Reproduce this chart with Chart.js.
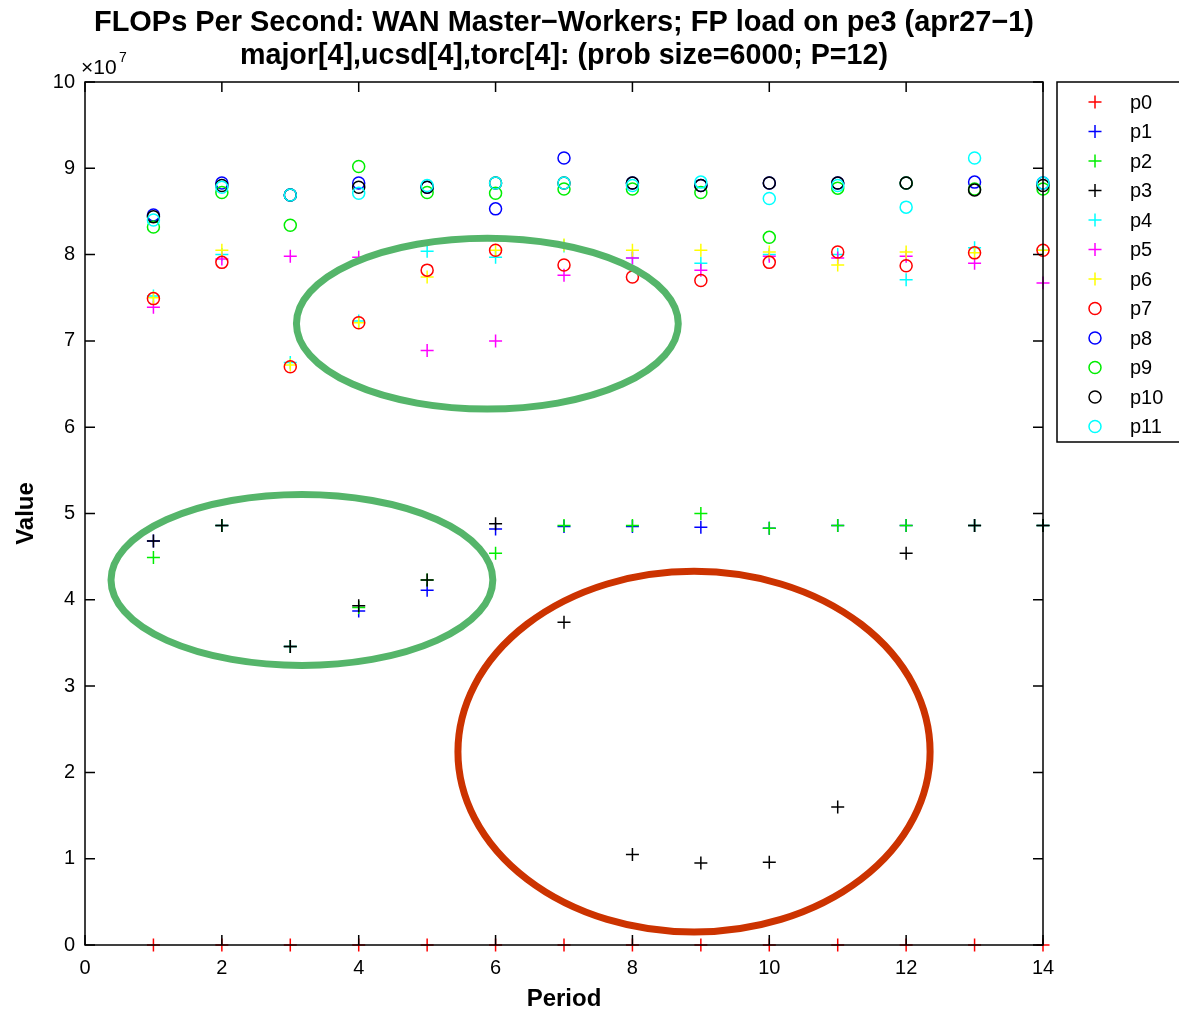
<!DOCTYPE html>
<html>
<head>
<meta charset="utf-8">
<script src="https://cdn.jsdelivr.net/npm/chart.js@4.4.0/dist/chart.umd.min.js"></script>
<style>
  body { margin: 0; background: #fff; }
  #wrap { width: 1179px; height: 1017px; }
</style>
</head>
<body>
<div id="wrap"><canvas id="flops" width="1179" height="1017"></canvas></div>
<script>
// values are in units of 1e7 flops/s, one per period 1..14
const periods = [1, 2, 3, 4, 5, 6, 7, 8, 9, 10, 11, 12, 13, 14];
const p0  = [0, 0, 0, 0, 0, 0, 0, 0, 0, 0, 0, 0, 0, 0];
const p1  = [4.68, 4.86, 3.46, 3.87, 4.11, 4.82, 4.85, 4.85, 4.84, 4.83, 4.86, 4.86, 4.86, 4.86];
const p2  = [4.49, 4.86, 3.46, 3.91, 4.23, 4.54, 4.86, 4.86, 5.00, 4.83, 4.86, 4.86, 4.86, 4.86];
const p3  = [4.68, 4.86, 3.46, 3.93, 4.23, 4.88, 3.74, 1.05, 0.95, 0.96, 1.60, 4.54, 4.86, 4.86];
const p4  = [7.52, 8.00, 6.75, 7.23, 8.04, 7.97, 8.10, 7.96, 7.90, 8.00, 8.00, 7.71, 8.08, 8.05];
const p5  = [7.39, 7.95, 7.98, 7.97, 6.89, 7.00, 7.76, 7.96, 7.82, 7.98, 7.96, 7.98, 7.90, 7.67];
const p6  = [7.50, 8.05, 6.72, 7.21, 7.74, 8.05, 8.11, 8.05, 8.05, 8.03, 7.88, 8.03, 8.02, 8.05];
const p7  = [7.49, 7.91, 6.70, 7.21, 7.82, 8.05, 7.88, 7.74, 7.70, 7.91, 8.03, 7.87, 8.02, 8.05];
const p8  = [8.46, 8.83, 8.69, 8.83, 8.78, 8.53, 9.12, 8.83, 8.80, 8.83, 8.83, 8.83, 8.84, 8.83];
const p9  = [8.32, 8.72, 8.34, 9.02, 8.72, 8.71, 8.76, 8.76, 8.72, 8.20, 8.77, 8.83, 8.76, 8.76];
const p10 = [8.44, 8.80, 8.69, 8.78, 8.78, 8.83, 8.83, 8.83, 8.80, 8.83, 8.83, 8.83, 8.75, 8.80];
const p11 = [8.40, 8.78, 8.69, 8.71, 8.80, 8.83, 8.83, 8.80, 8.84, 8.65, 8.80, 8.55, 9.12, 8.83];

const names = ['p0','p1','p2','p3','p4','p5','p6','p7','p8','p9','p10','p11'];
const series = [p0, p1, p2, p3, p4, p5, p6, p7, p8, p9, p10, p11];
const colors = ['#ff0000','#0000ff','#00ee00','#000000','#00ffff','#ff00ff','#ffff00',
                '#ff0000','#0000ff','#00ee00','#000000','#00ffff'];
const styles = ['cross','cross','cross','cross','cross','cross','cross',
                'circle','circle','circle','circle','circle'];

const xTicks = [0, 2, 4, 6, 8, 10, 12, 14];
const yTicks = [0, 1, 2, 3, 4, 5, 6, 7, 8, 9, 10];

// hand drawn highlight ellipses: centre x, centre y, radius x, radius y (data units)
const rings = [
  { cx: 5.88, cy: 7.20, rx: 2.79, ry: 0.99, color: '#55b56a' },
  { cx: 3.17, cy: 4.23, rx: 2.79, ry: 0.99, color: '#55b56a' },
  { cx: 8.90, cy: 2.24, rx: 3.45, ry: 2.09, color: '#cc3300' }
];

const FONT = '"Liberation Sans", Arial, sans-serif';

const datasets = series.map(function (vals, i) {
  return {
    label: names[i],
    data: periods.map(function (p, k) { return { x: p, y: vals[k] }; }),
    order: series.length - i,   // later series drawn on top, like matlab
    pointStyle: styles[i],
    pointRadius: styles[i] === 'cross' ? 6.5 : 6,
    pointHoverRadius: 6,
    pointBorderWidth: 1.5,
    borderColor: colors[i],
    pointBorderColor: colors[i],
    pointBackgroundColor: 'rgba(0,0,0,0)',
    showLine: false,
    clip: false
  };
});

const decor = {
  id: 'decor',
  afterDatasetsDraw(chart) {
    const ctx = chart.ctx;
    const xs = chart.scales.x, ys = chart.scales.y;
    ctx.save();
    rings.forEach(function (r) {
      const cx = xs.getPixelForValue(r.cx), cy = ys.getPixelForValue(r.cy);
      const rx = xs.getPixelForValue(r.cx + r.rx) - cx;
      const ry = cy - ys.getPixelForValue(r.cy + r.ry);
      ctx.beginPath();
      ctx.ellipse(cx, cy, rx, ry, 0, 0, Math.PI * 2);
      ctx.lineWidth = 7;
      ctx.strokeStyle = r.color;
      ctx.stroke();
    });
    ctx.restore();
  },
  afterDraw(chart) {
    const ctx = chart.ctx;
    const a = chart.chartArea;
    const xs = chart.scales.x, ys = chart.scales.y;
    ctx.save();
    // axes box
    ctx.strokeStyle = '#000';
    ctx.lineWidth = 1.5;
    ctx.strokeRect(a.left, a.top, a.right - a.left, a.bottom - a.top);
    // inward ticks on all four sides
    ctx.beginPath();
    xTicks.forEach(function (v) {
      const px = xs.getPixelForValue(v);
      ctx.moveTo(px, a.bottom); ctx.lineTo(px, a.bottom - 10);
      ctx.moveTo(px, a.top); ctx.lineTo(px, a.top + 10);
    });
    yTicks.forEach(function (v) {
      const py = ys.getPixelForValue(v);
      ctx.moveTo(a.left, py); ctx.lineTo(a.left + 10, py);
      ctx.moveTo(a.right, py); ctx.lineTo(a.right - 10, py);
    });
    ctx.stroke();

    // exponent
    ctx.fillStyle = '#000';
    ctx.textBaseline = 'alphabetic';
    ctx.textAlign = 'left';
    ctx.font = '21px ' + FONT;
    ctx.fillText('\u00d710', a.left - 4, a.top - 8);
    ctx.font = '14px ' + FONT;
    ctx.fillText('7', a.left + 34, a.top - 20);

    // title
    ctx.textAlign = 'center';
    ctx.font = 'bold 29px ' + FONT;
    const mid = (a.left + a.right) / 2;
    ctx.fillText('FLOPs Per Second: WAN Master\u2212Workers; FP load on pe3 (apr27\u22121)', mid, 31, 940);
    ctx.fillText('major[4],ucsd[4],torc[4]: (prob size=6000; P=12)', mid, 64, 648);

    // legend
    const lx = 1057, ly = a.top, rowH = 29.5;
    ctx.fillStyle = '#fff';
    ctx.fillRect(lx, ly, 140, 360);
    ctx.strokeStyle = '#000';
    ctx.lineWidth = 1.5;
    ctx.strokeRect(lx, ly, 140, 360);
    ctx.font = '20px ' + FONT;
    ctx.textAlign = 'left';
    ctx.textBaseline = 'middle';
    names.forEach(function (n, i) {
      const y = ly + 20 + i * rowH;
      const r = styles[i] === 'cross' ? 6.5 : 6;
      ctx.strokeStyle = colors[i];
      ctx.fillStyle = 'rgba(0,0,0,0)';
      ctx.lineWidth = 1.5;
      Chart.helpers.drawPoint(ctx, { pointStyle: styles[i], radius: r, borderWidth: 1.5, rotation: 0 }, 1095, y);
      ctx.fillStyle = '#000';
      ctx.fillText(n, 1130, y + 1);
    });
    ctx.restore();
  }
};

new Chart(document.getElementById('flops'), {
  type: 'scatter',
  data: { datasets: datasets },
  options: {
    responsive: false,
    animation: false,
    layout: { padding: { left: 0, right: 136, top: 82, bottom: 0 } },
    plugins: { legend: { display: false }, tooltip: { enabled: false }, title: { display: false } },
    scales: {
      x: {
        type: 'linear', min: 0, max: 14,
        afterFit: function (s) { s.height = 72; },
        afterBuildTicks: function (s) { s.ticks = xTicks.map(function (v) { return { value: v }; }); },
        grid: { display: false, drawTicks: false },
        border: { display: false },
        ticks: { color: '#000', padding: 11, font: { family: FONT, size: 20 } },
        title: { display: true, text: 'Period', color: '#000',
                 padding: { top: 0, bottom: 3 }, font: { family: FONT, size: 24, weight: 'bold' } }
      },
      y: {
        type: 'linear', min: 0, max: 10,
        afterFit: function (s) { s.width = 85; },
        afterBuildTicks: function (s) { s.ticks = yTicks.map(function (v) { return { value: v }; }); },
        grid: { display: false, drawTicks: false },
        border: { display: false },
        ticks: { color: '#000', padding: 10, font: { family: FONT, size: 20 } },
        title: { display: true, text: 'Value', color: '#000',
                 padding: { top: 12, bottom: 0 }, font: { family: FONT, size: 24, weight: 'bold' } }
      }
    }
  },
  plugins: [decor]
});
</script>
</body>
</html>
